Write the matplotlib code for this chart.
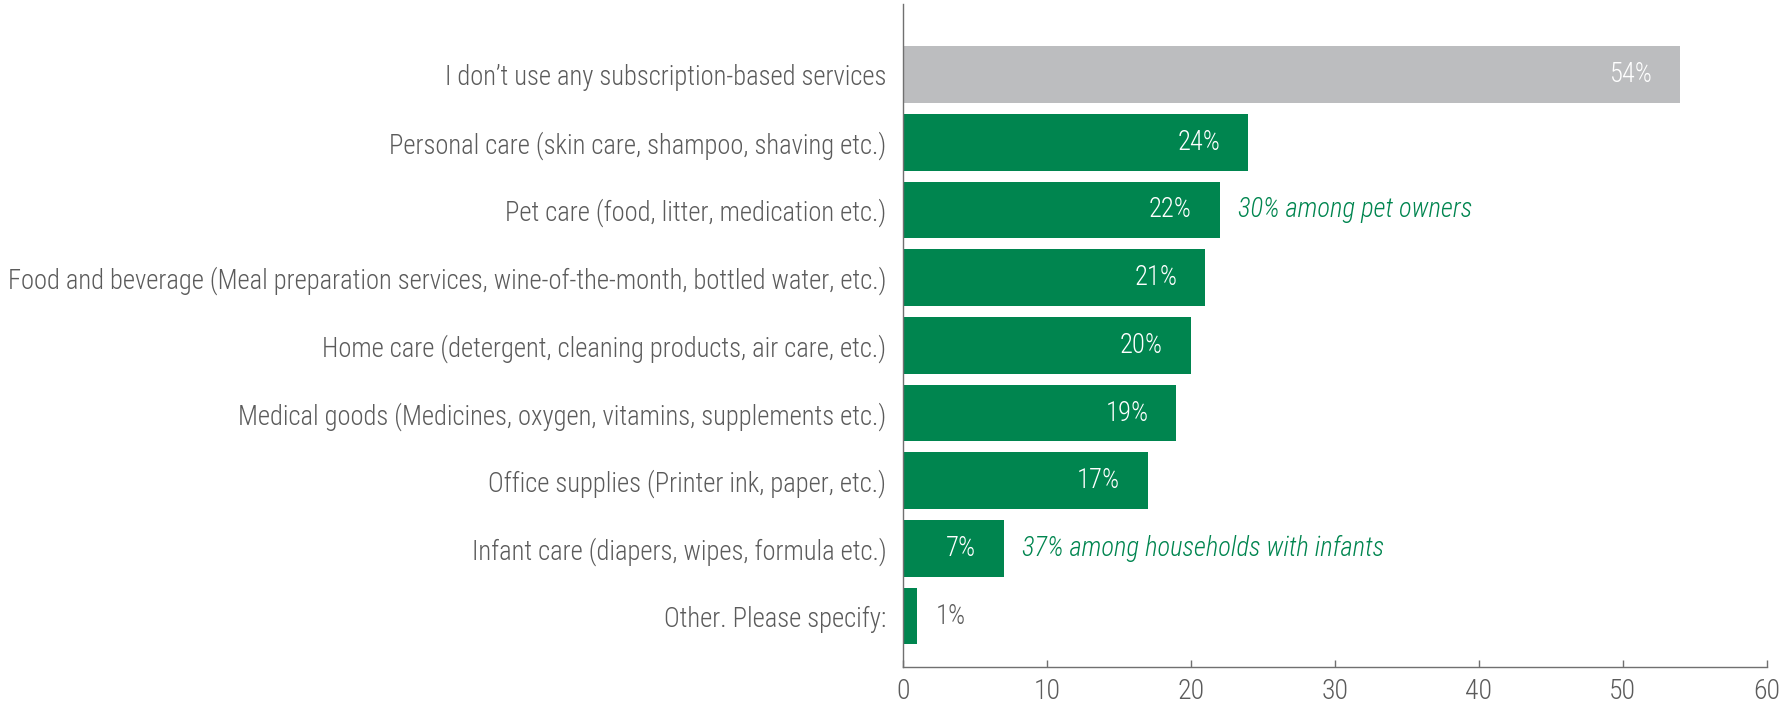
import matplotlib.pyplot as plt
from matplotlib import font_manager

# survey: share of respondents using each subscription service (%)
categories = [
    "I don\u2019t use any subscription-based services",
    "Personal care (skin care, shampoo, shaving etc.)",
    "Pet care (food, litter, medication etc.)",
    "Food and beverage (Meal preparation services, wine-of-the-month, bottled water, etc.)",
    "Home care (detergent, cleaning products, air care, etc.)",
    "Medical goods (Medicines, oxygen, vitamins, supplements etc.)",
    "Office supplies (Printer ink, paper, etc.)",
    "Infant care (diapers, wipes, formula etc.)",
    "Other. Please specify:",
]
values = [54, 24, 22, 21, 20, 19, 17, 7, 1]
notes = {2: "30% among pet owners", 7: "37% among households with infants"}
xticks = [0, 10, 20, 30, 40, 50, 60]

GREEN = "#00854f"
GREY = "#bcbdbf"
TEXT = "#5b5b5b"
AXIS = "#707070"

# condensed sans for the labels, falling back to DejaVu
names = {f.name for f in font_manager.fontManager.ttflist}
family = "DejaVu Sans"
for cand in ["Roboto Condensed", "Open Sans Condensed", "Archivo Narrow",
             "Barlow Semi Condensed", "Asap Condensed"]:
    if cand in names:
        family = cand
        break
plt.rcParams["font.family"] = [family, "DejaVu Sans"]
plt.rcParams["font.weight"] = 300

FS = 19.2

fig = plt.figure(figsize=(17.81, 7.02), dpi=100)
ax = fig.add_axes([0.507, 0.050, 0.485, 0.944])

ypos = list(range(len(categories)))
colors = [GREY] + [GREEN] * (len(values) - 1)
bars = ax.barh(ypos, values, height=0.835, color=colors)

for i, (b, v) in enumerate(zip(bars, values)):
    yc = b.get_y() + b.get_height() / 2
    if v >= 5:
        ax.annotate(f"{v}%", (v, yc), xytext=(-20, 0), textcoords="offset points",
                    ha="right", va="center", color="white", fontsize=FS)
    else:
        ax.annotate(f"{v}%", (v, yc), xytext=(13, 0), textcoords="offset points",
                    ha="left", va="center", color=TEXT, fontsize=FS)
    if i in notes:
        ax.annotate(notes[i], (v, yc), xytext=(13, 0), textcoords="offset points",
                    ha="left", va="center", color=GREEN, fontsize=FS, style="italic")

ax.set_yticks(ypos)
ax.set_yticklabels(categories)
ax.set_ylim(8.75, -1.04)
ax.set_xlim(0, 60)
ax.set_xticks(xticks)

ax.tick_params(axis="y", length=0, pad=12, labelsize=FS, labelcolor=TEXT)
ax.tick_params(axis="x", direction="in", length=5, width=1, color=AXIS,
               labelsize=FS + 0.8, labelcolor=TEXT, pad=8)
for s in ["top", "right"]:
    ax.spines[s].set_visible(False)
for s in ["left", "bottom"]:
    ax.spines[s].set_color(AXIS)
    ax.spines[s].set_linewidth(1)

fig.savefig("out.png", dpi=100)
